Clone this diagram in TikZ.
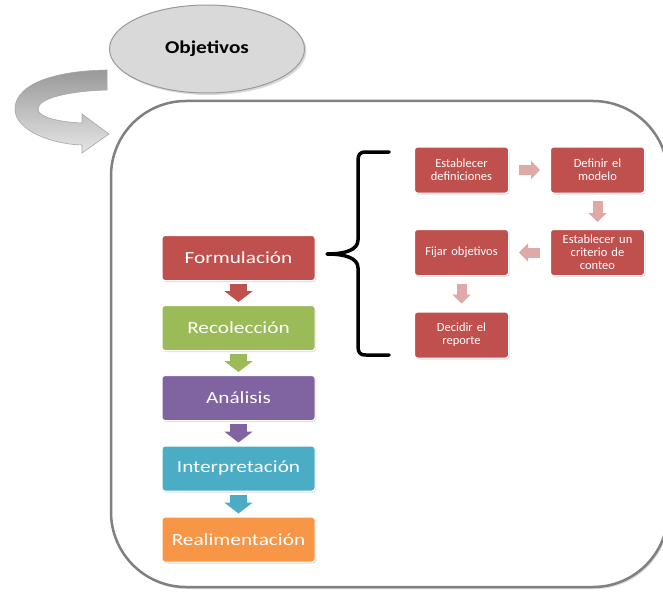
\documentclass[tikz,border=0pt]{standalone}
\usepackage{fontspec}
\setmainfont{Carlito}
\newfontfamily\stagefont[FakeStretch=1.25]{Carlito}
\newfontfamily\ovalfont[FakeStretch=1.18]{Carlito}
\usetikzlibrary{shadows,arrows.meta,shapes.geometric}
\definecolor{redacc}{HTML}{C0504D}
\definecolor{greenacc}{HTML}{9BBB59}
\definecolor{purpleacc}{HTML}{8064A2}
\definecolor{aquaacc}{HTML}{4BACC6}
\definecolor{orangeacc}{HTML}{F79646}
\definecolor{palered}{HTML}{DFA9A8}
\definecolor{framegray}{HTML}{808080}
\definecolor{ovalgray}{HTML}{D9D9D9}
\begin{document}
\begin{tikzpicture}[x=1pt,y=-1pt,
  softshadow/.style={drop shadow={opacity=0.25,shadow xshift=1pt,shadow yshift=-1.5pt}},
  stage/.style={draw=white, line width=1pt, rounded corners=3pt,
    minimum width=153pt, minimum height=45pt, text=white,
    font=\stagefont\fontsize{17}{19}\selectfont, softshadow},
  substep/.style={fill=redacc, draw=white, line width=1pt, rounded corners=3pt,
    minimum width=94pt, minimum height=46pt, inner sep=2pt, text=white,
    font=\fontsize{12.5}{13}\selectfont, align=center, text width=88pt, softshadow},
  flow/.style={line width=17pt, -{Triangle[width=28pt,length=11pt]}},
  subflow/.style={line width=10pt, draw=palered, -{Triangle[width=18pt,length=9pt]}}
]
\useasboundingbox (0,0) rectangle (663,591);

% outer rounded frame
\draw[framegray, line width=2.5pt, fill=white, rounded corners=75pt,
      drop shadow={opacity=0.3,shadow xshift=1.5pt,shadow yshift=-2pt}]
  (111,101) rectangle (668,587);

% curved 3D-style arrow leading into the frame
\shade[top color=black!40, bottom color=black!10, draw=black!35, line width=0.6pt]
  (107,70) .. controls (45,71) and (14,88) .. (15,110)
  .. controls (16,130) and (50,144) .. (82,145)
  -- (82,153) -- (109,134) -- (82,114) -- (82,123)
  .. controls (58,122) and (38,117) .. (38,109)
  .. controls (38,98) and (70,91) .. (107,90) -- cycle;

% goal oval
\node[ellipse, fill=ovalgray, draw=black!40, line width=1pt,
      minimum width=195pt, minimum height=88pt, font=\ovalfont\fontsize{18}{20}\selectfont\bfseries,
      drop shadow={opacity=0.3,shadow xshift=2pt,shadow yshift=-2pt}]
  (obj) at (207,49) {Objetivos};

% main process stages
\node[stage, fill=redacc]    (form)  at (238.5,258) {Formulación};
\node[stage, fill=greenacc]  (recol) at (238.5,328) {Recolección};
\node[stage, fill=purpleacc] (anal)  at (238.5,398) {Análisis};
\node[stage, fill=aquaacc]   (inter) at (238.5,468.5) {Interpretación};
\node[stage, fill=orangeacc] (real)  at (238.5,539.5) {Realimentación};

\draw[flow, redacc]    ([yshift=-3pt]form.south)  -- ([yshift=3pt]recol.north);
\draw[flow, greenacc]  ([yshift=-3pt]recol.south) -- ([yshift=3pt]anal.north);
\draw[flow, purpleacc] ([yshift=-3pt]anal.south)  -- ([yshift=3pt]inter.north);
\draw[flow, aquaacc]   ([yshift=-3pt]inter.south) -- ([yshift=3pt]real.north);

% brace grouping the formulation sub-steps
\coordinate (btop) at (389,152);
\coordinate (bbot) at (389,355);
\coordinate (btip) at (327,254);
\draw[line width=3.5pt, line cap=round, line join=round]
  (btop) -- (366,152) .. controls (359,152) and (358,155) .. (358,162)
  -- (358,240) .. controls (358,250) and (345,254) .. (btip)
  .. controls (345,254) and (358,258) .. (358,268)
  -- (358,345) .. controls (358,352) and (359,355) .. (366,355) -- (bbot);

% formulation sub-steps
\node[substep] (defs) at (461.5,170)   {Establecer\\definiciones};
\node[substep] (model) at (597.5,170)  {Definir el\\modelo};
\node[substep] (crit) at (597.5,252.5) {Establecer un\\criterio de\\conteo};
\node[substep] (goals) at (461.5,252.5) {Fijar objetivos};
\node[substep] (rep) at (461.5,335)    {Decidir el\\reporte};

\draw[subflow] ([xshift=10pt]defs.east)   -- ([xshift=-10pt]model.west);
\draw[subflow] ([yshift=-7pt]model.south) -- ([yshift=7pt]crit.north);
\draw[subflow] ([xshift=-10pt]crit.west)  -- ([xshift=10pt]goals.east);
\draw[subflow] ([yshift=-8pt]goals.south) -- ([yshift=8pt]rep.north);
\end{tikzpicture}
\end{document}
